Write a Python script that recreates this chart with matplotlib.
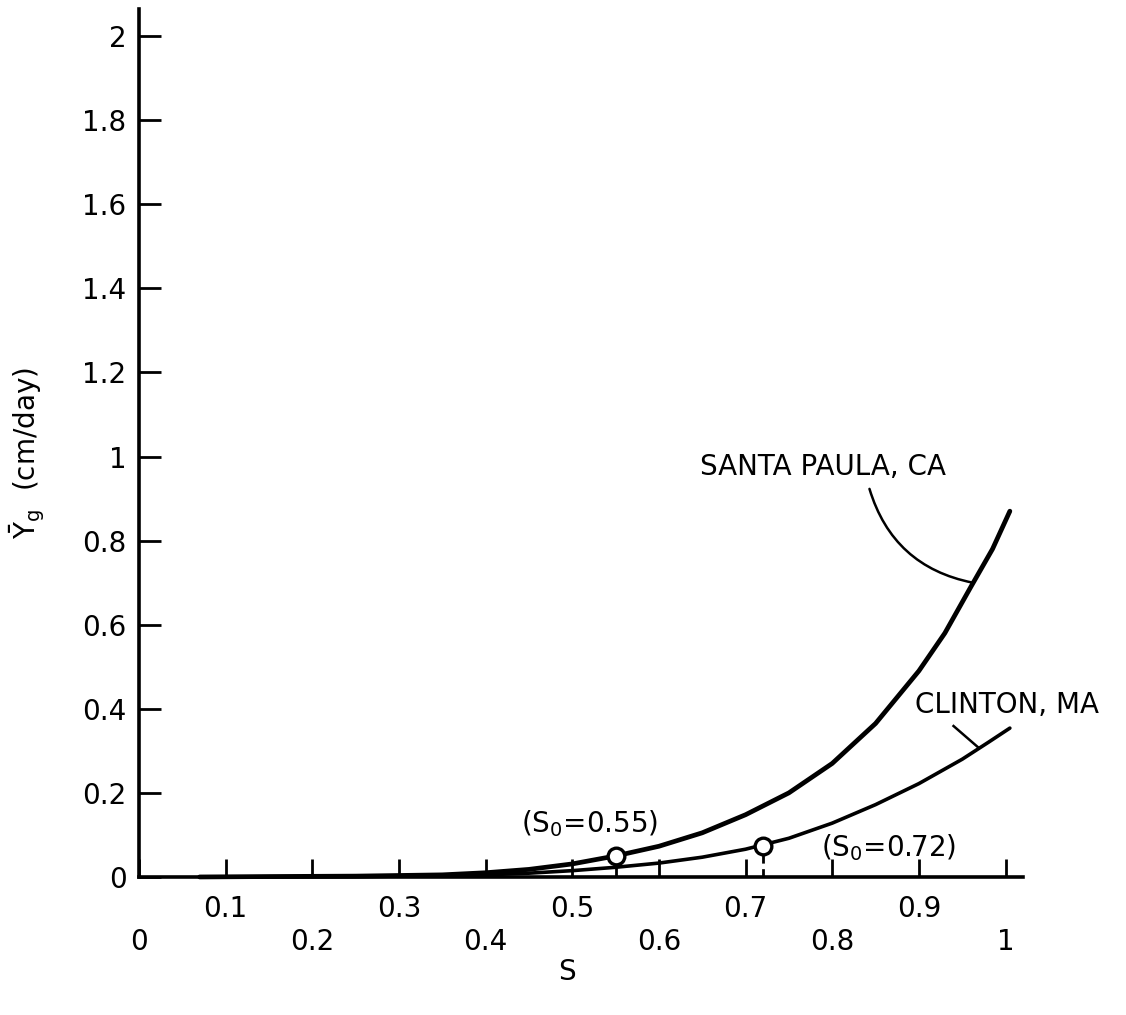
import matplotlib
matplotlib.use("Agg")
import matplotlib.pyplot as plt

plt.rcParams['font.family'] = ['DejaVu Sans']
plt.rcParams['mathtext.fontset'] = 'dejavusans'

# growth rate curves, read along S
santa_s = [0.07, 0.15, 0.25, 0.35, 0.4, 0.45, 0.5, 0.55, 0.6, 0.65, 0.7,
           0.75, 0.8, 0.85, 0.9, 0.93, 0.96, 0.985, 1.005]
santa_y = [0.0, 0.001, 0.002, 0.005, 0.01, 0.018, 0.031, 0.05, 0.073, 0.105, 0.148,
           0.2, 0.27, 0.365, 0.49, 0.58, 0.69, 0.78, 0.87]
clinton_s = [0.07, 0.15, 0.25, 0.35, 0.4, 0.45, 0.5, 0.55, 0.6, 0.65, 0.7,
             0.75, 0.8, 0.85, 0.9, 0.95, 0.98, 1.005]
clinton_y = [0.0, 0.0005, 0.001, 0.003, 0.005, 0.009, 0.015, 0.023, 0.033, 0.047, 0.066,
             0.092, 0.128, 0.172, 0.222, 0.28, 0.32, 0.354]

# threshold points S0
s0_santa = 0.55
s0_santa_y = 0.05
s0_clinton = 0.72
s0_clinton_y = 0.074

x_major = [0, 0.2, 0.4, 0.6, 0.8, 1.0]
x_major_labels = ["0", "0.2", "0.4", "0.6", "0.8", "1"]
x_minor = [0.1, 0.3, 0.5, 0.7, 0.9]
x_minor_labels = ["0.1", "0.3", "0.5", "0.7", "0.9"]
y_ticks = [0, 0.2, 0.4, 0.6, 0.8, 1.0, 1.2, 1.4, 1.6, 1.8, 2.0]
y_labels = ["0", "0.2", "0.4", "0.6", "0.8", "1", "1.2", "1.4", "1.6", "1.8", "2"]

fig = plt.figure(figsize=(11.26, 10.15), dpi=100)
ax = fig.add_axes([0.1234, 0.136, 0.785, 0.855])
ax.set_xlim(0, 1.02)
ax.set_ylim(0, 2.064)

for side in ["top", "right"]:
    ax.spines[side].set_visible(False)
for side in ["left", "bottom"]:
    ax.spines[side].set_linewidth(2.6)

ax.plot(santa_s, santa_y, color="black", lw=3.4, solid_capstyle="round",
        solid_joinstyle="round", clip_on=False)
ax.plot(clinton_s, clinton_y, color="black", lw=2.6, solid_capstyle="round",
        solid_joinstyle="round", clip_on=False)

# drop lines under the S0 points
ax.vlines(s0_santa, 0, s0_santa_y - 0.02, color="black", lw=2)
ax.vlines(s0_clinton, 0, s0_clinton_y - 0.02, color="black", lw=2, linestyles=(0, (3, 2)))

ax.plot([s0_santa, s0_clinton], [s0_santa_y, s0_clinton_y], "o", ms=12,
        mfc="white", mec="black", mew=2.4, clip_on=False, zorder=5)

fs = 20
ax.text(0.52, 0.128, "(S$_0$=0.55)", fontsize=fs, ha="center", va="center")
ax.text(0.865, 0.07, "(S$_0$=0.72)", fontsize=fs, ha="center", va="center")
ax.text(0.647, 0.975, "SANTA PAULA, CA", fontsize=fs, ha="left", va="center")
ax.text(0.895, 0.41, "CLINTON, MA", fontsize=fs, ha="left", va="center")

# leader lines from the labels to the curves
ax.annotate("", xy=(0.962, 0.70), xytext=(0.843, 0.923),
            arrowprops=dict(arrowstyle="-", lw=1.8, color="black",
                            connectionstyle="arc3,rad=0.3", shrinkA=0, shrinkB=0))
ax.plot([0.94, 0.968], [0.359, 0.309], color="black", lw=1.8)

ax.set_xticks(x_major, x_major_labels)
ax.set_xticks(x_minor, x_minor_labels, minor=True)
ax.set_yticks(y_ticks, y_labels)
ax.tick_params(axis="x", which="both", direction="in", length=13, width=2, labelsize=fs)
ax.tick_params(axis="x", which="major", pad=37)
ax.tick_params(axis="x", which="minor", pad=13)
ax.tick_params(axis="y", direction="in", length=16, width=2, labelsize=fs, pad=9)

fig.text(567 / 1126, 1 - 972 / 1015, "S", fontsize=fs, ha="center", va="center")
fig.text(27 / 1126, 1 - 453 / 1015, r"$\bar{\mathrm{Y}}_{\mathrm{g}}$  (cm/day)", fontsize=fs,
         rotation=90, ha="center", va="center")

fig.savefig("out.png", dpi=100)
